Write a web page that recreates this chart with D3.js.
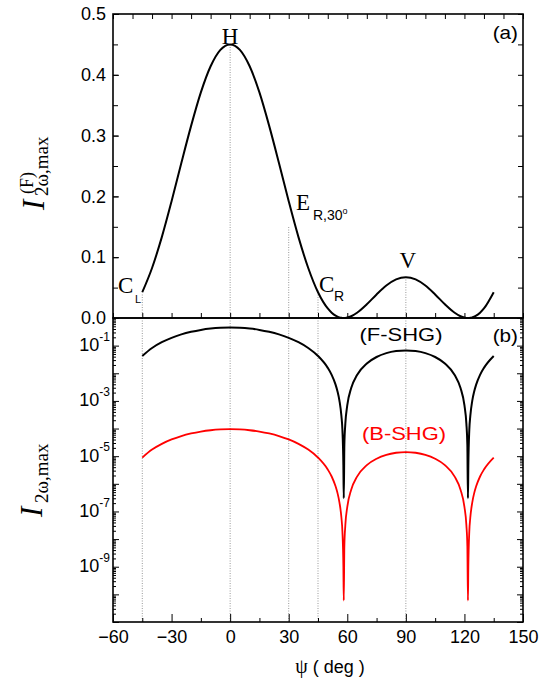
<!DOCTYPE html>
<html>
<head>
<meta charset="utf-8">
<script src="https://cdn.jsdelivr.net/npm/d3@7/dist/d3.min.js"></script>
<style>
	body { margin: 0; background: #fff; }
	text { fill: #000; }
</style>
</head>
<body>
<svg id="chart" width="546" height="683"></svg>
<script>
	// angle psi (deg) and the two SHG maxima
	var psi = [-45, -40, -35, -30, -25, -20, -15, -10, -5, 0, 5, 10, 15, 20, 25, 30, 35, 40, 45,
		50, 52, 54, 55, 56, 57, 57.5, 58, 58.2, 58.5, 59, 60, 62, 65, 70, 75, 80, 85, 90,
		95, 100, 105, 110, 115, 118, 120, 121, 121.5, 121.8, 122, 122.5, 123, 124, 125, 126, 128, 130, 135];
	var fshg = [0.0424, 0.0823, 0.133, 0.192, 0.255, 0.316, 0.371, 0.414, 0.441, 0.450, 0.441, 0.414, 0.371, 0.316, 0.255, 0.192, 0.133, 0.0823, 0.0424,
		0.0157, 0.00874, 0.00388, 0.00221, 0.00101, 2.8e-4, 9.0e-5, 4.6e-6, 3e-7, 2.6e-5, 1.5e-4, 7.0e-4, 0.00292, 0.00865, 0.0226, 0.0388, 0.0534, 0.0635, 0.0671,
		0.0635, 0.0534, 0.0388, 0.0226, 0.00865, 0.00292, 7.0e-4, 1.5e-4, 2.6e-5, 3e-7, 4.6e-6, 9.0e-5, 2.8e-4, 0.00101, 0.00221, 0.00388, 0.00874, 0.0157, 0.0424];
	var bshg = [8.9e-6, 1.73e-5, 2.79e-5, 4.03e-5, 5.36e-5, 6.64e-5, 7.79e-5, 8.69e-5, 9.26e-5, 9.45e-5, 9.26e-5, 8.69e-5, 7.79e-5, 6.64e-5, 5.36e-5, 4.03e-5, 2.79e-5, 1.73e-5, 8.9e-6,
		3.3e-6, 1.84e-6, 8.1e-7, 4.6e-7, 2.1e-7, 5.9e-8, 1.9e-8, 9.7e-10, 6e-11, 5.5e-9, 3.2e-8, 1.47e-7, 6.1e-7, 1.82e-6, 4.75e-6, 8.1e-6, 1.12e-5, 1.33e-5, 1.41e-5,
		1.33e-5, 1.12e-5, 8.1e-6, 4.75e-6, 1.82e-6, 6.1e-7, 1.47e-7, 3.2e-8, 5.5e-9, 6e-11, 9.7e-10, 1.9e-8, 5.9e-8, 2.1e-7, 4.6e-7, 8.1e-7, 1.84e-6, 3.3e-6, 8.9e-6];

	var xTicks = [-60, -30, 0, 30, 60, 90, 120, 150];
	var linTicks = [0.0, 0.1, 0.2, 0.3, 0.4, 0.5];
	var logTicks = [1e-1, 1e-3, 1e-5, 1e-7, 1e-9];
	var logExp = ["-1", "-3", "-5", "-7", "-9"];
	// dotted guide lines: angle and how far up they reach in panel (a)
	var guidePsi = [-45, 0, 30, 45, 90];
	var guideTop = [0.042, 0.45, 0.15, 0.046, 0.067];

	var svg = d3.select("#chart");
	var L = 113, R = 523, T1 = 14, B1 = 318, T2 = 318, B2 = 622;
	var sans = "'Liberation Sans', Arial, sans-serif";
	var serif = "'Liberation Serif', 'Times New Roman', serif";

	svg.append("rect").attr("width", 546).attr("height", 683).attr("fill", "#fff");

	var x = d3.scaleLinear().domain([-60, 150]).range([L, R]);
	var y1 = d3.scaleLinear().domain([0, 0.5]).range([B1, T1]);
	var y2 = d3.scaleLog().domain([1e-11, 1]).range([B2, T2]);

	// guides
	guidePsi.forEach(function(p, i) {
		svg.append("line")
			.attr("x1", x(p)).attr("x2", x(p))
			.attr("y1", B1).attr("y2", y1(guideTop[i]))
			.attr("stroke", "#999").attr("stroke-width", 1).attr("stroke-dasharray", "1,1.5");
		svg.append("line")
			.attr("x1", x(p)).attr("x2", x(p))
			.attr("y1", T2).attr("y2", B2)
			.attr("stroke", "#999").attr("stroke-width", 1).attr("stroke-dasharray", "1,1.5");
	});

	function noDomain(g) { g.select(".domain").remove(); }

	// ----- panel (a) axes
	var minorLin = d3.range(0, 0.501, 0.05);
	svg.append("g").attr("transform", "translate(" + L + ",0)")
		.call(d3.axisLeft(y1).tickValues(minorLin).tickSize(-5).tickFormat(""))
		.call(noDomain);
	var ga = svg.append("g").attr("transform", "translate(" + L + ",0)")
		.call(d3.axisLeft(y1).tickValues(linTicks).tickSize(-6).tickPadding(7).tickFormat(d3.format(".1f")))
		.call(noDomain);
	ga.selectAll("text").style("font-family", sans).style("font-size", "18px");
	svg.append("g").attr("transform", "translate(" + R + ",0)")
		.call(d3.axisRight(y1).tickValues(minorLin).tickSize(-5).tickFormat(""))
		.call(noDomain);
	svg.append("g").attr("transform", "translate(0," + T1 + ")")
		.call(d3.axisTop(x).tickValues(d3.range(-60, 151, 10)).tickSize(-5).tickFormat(""))
		.call(noDomain);
	svg.append("g").attr("transform", "translate(0," + B1 + ")")
		.call(d3.axisBottom(x).tickValues(d3.range(-60, 151, 15)).tickSize(-5).tickFormat(""))
		.call(noDomain);

	// ----- panel (b) axes
	var minorLog = [];
	for (var e = -11; e < 0; e++) {
		for (var m = 2; m < 10; m++) minorLog.push(m * Math.pow(10, e));
	}
	var decades = d3.range(-11, 1).map(function(e) { return Math.pow(10, e); });
	[["L", L, d3.axisLeft], ["R", R, d3.axisRight]].forEach(function(s) {
		svg.append("g").attr("transform", "translate(" + s[1] + ",0)")
			.call(s[2](y2).tickValues(minorLog).tickSize(-3).tickFormat(""))
			.call(noDomain);
		svg.append("g").attr("transform", "translate(" + s[1] + ",0)")
			.call(s[2](y2).tickValues(decades).tickSize(-6).tickFormat(""))
			.call(noDomain);
	});
	var gl = svg.append("g").attr("transform", "translate(" + L + ",0)")
		.call(d3.axisLeft(y2).tickValues(logTicks).tickSize(0).tickPadding(16).tickFormat(""))
		.call(noDomain);
	gl.selectAll(".tick text").each(function(d, i) {
		var t = d3.select(this).style("font-family", sans).attr("dy", "0.5em");
		t.append("tspan").style("font-size", "18px").text("10");
		t.append("tspan").style("font-size", "12px").attr("dy", "-0.85em").text(logExp[i]);
	});
	gl.selectAll(".tick text").attr("text-anchor", "end").attr("x", -3);

	svg.append("g").attr("transform", "translate(0," + B2 + ")")
		.call(d3.axisBottom(x).tickValues(d3.range(-45, 151, 30)).tickSize(-4).tickFormat(""))
		.call(noDomain);
	var gx = svg.append("g").attr("transform", "translate(0," + B2 + ")")
		.call(d3.axisBottom(x).tickValues(xTicks).tickSize(-8).tickPadding(8).tickFormat(d3.format("d")))
		.call(noDomain);
	gx.selectAll("text").style("font-family", sans).style("font-size", "18px");

	// frames
	svg.append("rect").attr("x", L).attr("y", T1).attr("width", R - L).attr("height", B1 - T1)
		.attr("fill", "none").attr("stroke", "#000").attr("stroke-width", 1.6);
	svg.append("rect").attr("x", L).attr("y", T2).attr("width", R - L).attr("height", B2 - T2)
		.attr("fill", "none").attr("stroke", "#000").attr("stroke-width", 1.6);

	// curves
	var idx = d3.range(psi.length);
	var lineA = d3.line().x(function(i) { return x(psi[i]); }).y(function(i) { return y1(fshg[i]); }).curve(d3.curveMonotoneX);
	var lineF = d3.line().x(function(i) { return x(psi[i]); }).y(function(i) { return y2(fshg[i]); }).curve(d3.curveMonotoneX);
	var lineB = d3.line().x(function(i) { return x(psi[i]); }).y(function(i) { return y2(bshg[i]); }).curve(d3.curveMonotoneX);
	svg.append("path").attr("d", lineA(idx)).attr("fill", "none").attr("stroke", "#000").attr("stroke-width", 2);
	svg.append("path").attr("d", lineF(idx)).attr("fill", "none").attr("stroke", "#000").attr("stroke-width", 2);
	svg.append("path").attr("d", lineB(idx)).attr("fill", "none").attr("stroke", "#f00").attr("stroke-width", 1.8);

	// annotations
	function txt(xp, yp, s, font, size, anchor, color, sx) {
		return svg.append("text")
			.attr("transform", "translate(" + xp + "," + yp + ") scale(" + (sx || 1) + ",1)")
			.attr("text-anchor", anchor || "start")
			.style("font-family", font).style("font-size", size + "px").style("fill", color || "#000").text(s);
	}
	txt(x(0), 44, "H", serif, 23, "middle");
	txt(x(90) + 2, 268, "V", serif, 23, "middle");
	txt(118, 293, "C", serif, 23);
	txt(135, 303, "L", sans, 11);
	txt(319, 292, "C", serif, 23);
	txt(334, 301, "R", sans, 14);
	txt(296, 210, "E", serif, 23);
	var es = txt(313, 220, "R,30", sans, 14);
	es.append("tspan").attr("dy", "-6").style("font-size", "9px").text("o");
	txt(518, 39, "(a)", sans, 18, "end", null, 1.15);
	txt(518, 342, "(b)", sans, 18, "end", null, 1.15);
	txt(401, 341, "(F-SHG)", sans, 18, "middle", null, 1.22);
	txt(404, 440, "(B-SHG)", sans, 18, "middle", "#f00", 1.22);

	// axis titles
	var xt = txt(330, 673, "", sans, 18, "middle");
	xt.append("tspan").style("font-family", serif).style("font-size", "20px").text("ψ");
	xt.append("tspan").text(" ( deg )");

	var ta = svg.append("g").attr("transform", "rotate(-90)");
	ta.append("text").attr("x", -210).attr("y", 44).style("font-family", serif).style("font-style", "italic").style("font-size", "31px").text("I");
	ta.append("text").attr("x", -194).attr("y", 33).style("font-family", serif).style("font-size", "18px").text("(F)");
	ta.append("text").attr("x", -196).attr("y", 48).style("font-family", serif).style("font-size", "19px").text("2ω,max");

	ta.append("text").attr("x", -517).attr("y", 42).style("font-family", serif).style("font-style", "italic").style("font-size", "31px").text("I");
	ta.append("text").attr("x", -503).attr("y", 48).style("font-family", serif).style("font-size", "19px").text("2ω,max");
</script>
</body>
</html>
